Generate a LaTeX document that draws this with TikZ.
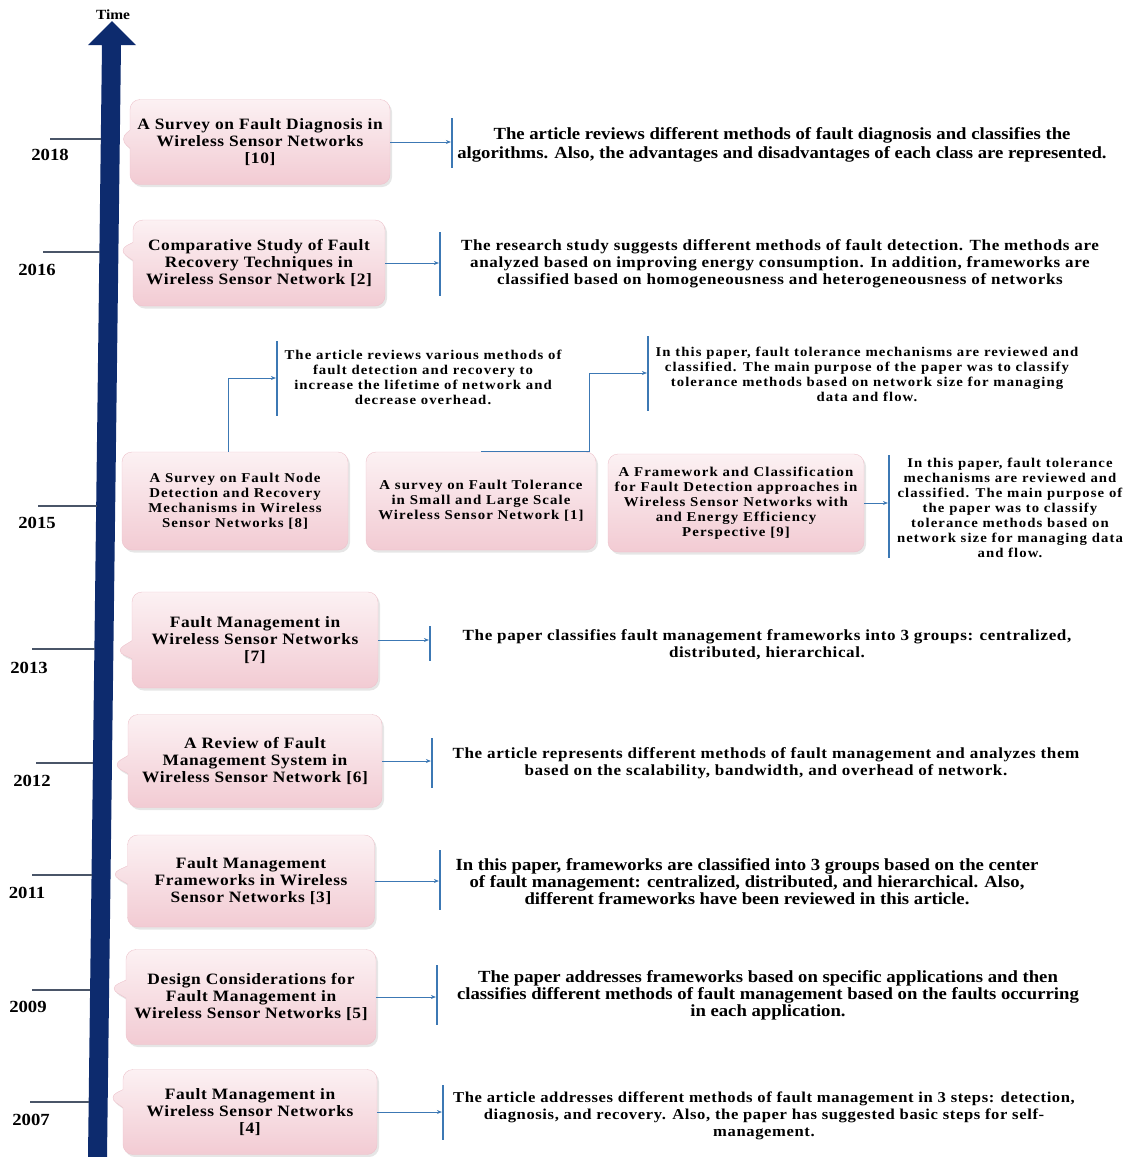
\documentclass[tikz,border=0pt]{standalone}
\usepackage{fontspec}
\setmainfont{Liberation Serif}
\newfontfamily\plainfont{Liberation Serif}[FakeStretch=1.1]
\newfontfamily\spacedfont{Liberation Serif}[FakeStretch=1.1,LetterSpace=4]
\newfontfamily\widefont{Liberation Serif}[FakeStretch=1.1,LetterSpace=8]
\usetikzlibrary{shapes.callouts,shadows,arrows.meta}
\definecolor{axisblue}{HTML}{0D2B6E}
\definecolor{tickgray}{HTML}{4A5568}
\definecolor{linkblue}{HTML}{3C78B4}
\definecolor{pinktop}{HTML}{FCF1F3}
\definecolor{pinkbot}{HTML}{F2CBD3}
\definecolor{boxedge}{HTML}{EDC3CC}
\begin{document}
\begin{tikzpicture}
  [x=1pt,y=-1pt,
   paper/.style={rectangle callout,rounded corners=10pt,draw=boxedge,
     top color=pinktop,bottom color=pinkbot,callout pointer width=18pt,
     drop shadow={opacity=.2,shadow xshift=2pt,shadow yshift=-2.5pt},
     align=center,inner sep=0pt,
     font=\spacedfont\bfseries\fontsize{15.8}{17}\selectfont},
   paperflat/.style={paper,rectangle,font=\widefont\bfseries\fontsize{13.5}{15}\selectfont},
   note/.style={align=center,inner sep=0pt,font=\spacedfont\bfseries\fontsize{15.5}{17}\selectfont},
   plainnote/.style={note,font=\plainfont\bfseries\fontsize{17}{17}\selectfont},
   smallnote/.style={note,font=\widefont\bfseries\fontsize{13.4}{15}\selectfont},
   bar/.style={fill=linkblue,inner sep=0pt,minimum width=1.8pt},
   link/.style={draw=linkblue,line width=.9pt,-{Stealth[length=5pt,width=4pt]}},
   tick/.style={draw=tickgray,line width=1.3pt},
   year/.style={font=\plainfont\bfseries\fontsize{17}{17}\selectfont}]
\useasboundingbox (0,0) rectangle (1129,1157);

  % time axis (leans slightly to the left towards the bottom)
  \fill[axisblue] (88,1157) -- (102,45) -- (88,45) -- (112,21)
    -- (136,45) -- (121,45) -- (107,1157) -- cycle;
  \node[font=\plainfont\bfseries\fontsize{14}{14}\selectfont] (time) at (113,15) {Time};

  \foreach \yr/\ty/\tx/\ex/\lx/\ly in {2018/139/50/101/50/155, 2016/252/43/100/37/270,
      2015/506/38/97/37/523, 2013/649/32/95/29/668, 2012/763/36/93/32/781,
      2011/875/32/92/27/893, 2009/990/32/90/28/1007, 2007/1102/30/89/31/1120}
  {
    \coordinate (s\yr) at (\tx,\ty);
    \coordinate (e\yr) at (\ex,\ty);
    \draw[tick] (s\yr) -- (e\yr);
    \node[year] (y\yr) at (\lx,\ly) {\yr};
  }

  % 2018
  \node[paper,minimum width=260pt,minimum height=85pt,callout absolute pointer={(119,139)}]
    (b2018) at (260,142) {A Survey on Fault Diagnosis in\\Wireless Sensor Networks\\{[10]}};
  \node[bar,minimum height=50pt] (k2018) at (452,143) {};
  \draw[link] (b2018.east) -- (b2018.east -| k2018.west);
  \node[plainnote,font=\plainfont\bfseries\fontsize{17}{19}\selectfont] (d2018) at (782,145)
    {The article reviews different methods of fault diagnosis and classifies the\\
     algorithms. Also, the advantages and disadvantages of each class are represented.};

  % 2016
  \node[paper,minimum width=252pt,minimum height=86pt,callout absolute pointer={(118,250)}]
    (b2016) at (259,263) {Comparative Study of Fault\\Recovery Techniques in\\Wireless Sensor Network [2]};
  \node[bar,minimum height=64pt] (k2016) at (440,264) {};
  \draw[link] (b2016.east) -- (b2016.east -| k2016.west);
  \node[note] (d2016) at (780,264)
    {The research study suggests different methods of fault detection. The methods are\\
     analyzed based on improving energy consumption. In addition, frameworks are\\
     classified based on homogeneousness and heterogeneousness of networks};

  % 2015
  \node[paperflat,minimum width=226pt,minimum height=98pt] (bA) at (235,501)
    {A Survey on Fault Node\\Detection and Recovery\\Mechanisms in Wireless\\Sensor Networks [8]};
  \node[paperflat,minimum width=230pt,minimum height=98pt] (bB) at (481,501)
    {A survey on Fault Tolerance\\in Small and Large Scale\\Wireless Sensor Network [1]};
  \node[paperflat,minimum width=256pt,minimum height=98pt] (bC) at (736,503)
    {A Framework and Classification\\for Fault Detection approaches in\\Wireless Sensor Networks with\\and Energy Efficiency\\Perspective [9]};
  \node[bar,minimum height=75pt] (kA) at (277,378) {};
  \node[bar,minimum height=75pt] (kB) at (648,373) {};
  \node[bar,minimum height=103pt] (kC) at (889,506) {};
  \draw[link] ([xshift=-7pt]bA.north) |- (kA.west);
  \draw[link] (bB.north) -- ++(108,0) |- (kB.west);
  \draw[link] (bC.east) -- (bC.east -| kC.west);
  \node[smallnote] (dA) at (423,377)
    {The article reviews various methods of\\fault detection and recovery to\\
     increase the lifetime of network and\\decrease overhead.};
  \node[smallnote] (dB) at (867,374)
    {In this paper, fault tolerance mechanisms are reviewed and\\
     classified. The main purpose of the paper was to classify\\
     tolerance methods based on network size for managing\\data and flow.};
  \node[smallnote] (dC) at (1010,508)
    {In this paper, fault tolerance\\mechanisms are reviewed and\\classified. The main purpose of\\
     the paper was to classify\\tolerance methods based on\\network size for managing data\\and flow.};

  % 2013
  \node[paper,minimum width=246pt,minimum height=96pt,callout absolute pointer={(115,651)}]
    (b2013) at (255,640) {Fault Management in\\Wireless Sensor Networks\\{[7]}};
  \node[bar,minimum height=35pt] (k2013) at (430,643) {};
  \draw[link] (b2013.east) -- (b2013.east -| k2013.west);
  \node[note] (d2013) at (767,645)
    {The paper classifies fault management frameworks into 3 groups: centralized,\\
     distributed, hierarchical.};

  % 2012
  \node[paper,minimum width=254pt,minimum height=93pt,callout absolute pointer={(112,765)}]
    (b2012) at (255,761) {A Review of Fault\\Management System in\\Wireless Sensor Network [6]};
  \node[bar,minimum height=50pt] (k2012) at (432,763) {};
  \draw[link] (b2012.east) -- (b2012.east -| k2012.west);
  \node[note] (d2012) at (766,763)
    {The article represents different methods of fault management and analyzes them\\
     based on the scalability, bandwidth, and overhead of network.};

  % 2011
  \node[paper,minimum width=247pt,minimum height=92pt,callout absolute pointer={(110,874)}]
    (b2011) at (251,881) {Fault Management\\Frameworks in Wireless\\Sensor Networks [3]};
  \node[bar,minimum height=60pt] (k2011) at (440,880) {};
  \draw[link] (b2011.east) -- (b2011.east -| k2011.west);
  \node[plainnote] (d2011) at (747,882)
    {In this paper, frameworks are classified into 3 groups based on the center\\
     of fault management: centralized, distributed, and hierarchical. Also,\\
     different frameworks have been reviewed in this article.};

  % 2009
  \node[paper,minimum width=250pt,minimum height=95pt,callout absolute pointer={(109,988)}]
    (b2009) at (251,997) {Design Considerations for\\Fault Management in\\Wireless Sensor Networks [5]};
  \node[bar,minimum height=60pt] (k2009) at (437,995) {};
  \draw[link] (b2009.east) -- (b2009.east -| k2009.west);
  \node[plainnote] (d2009) at (768,995)
    {The paper addresses frameworks based on specific applications and then\\
     classifies different methods of fault management based on the faults occurring\\
     in each application.};

  % 2007
  \node[paper,minimum width=254pt,minimum height=85pt,callout absolute pointer={(108,1097)}]
    (b2007) at (250,1112) {Fault Management in\\Wireless Sensor Networks\\{[4]}};
  \node[bar,minimum height=55pt] (k2007) at (443,1112) {};
  \draw[link] (b2007.east) -- (b2007.east -| k2007.west);
  \node[note,font=\spacedfont\bfseries\fontsize{15.1}{17}\selectfont] (d2007) at (764,1116)
    {The article addresses different methods of fault management in 3 steps: detection,\\
     diagnosis, and recovery. Also, the paper has suggested basic steps for self-\\
     management.};
\end{tikzpicture}
\end{document}
